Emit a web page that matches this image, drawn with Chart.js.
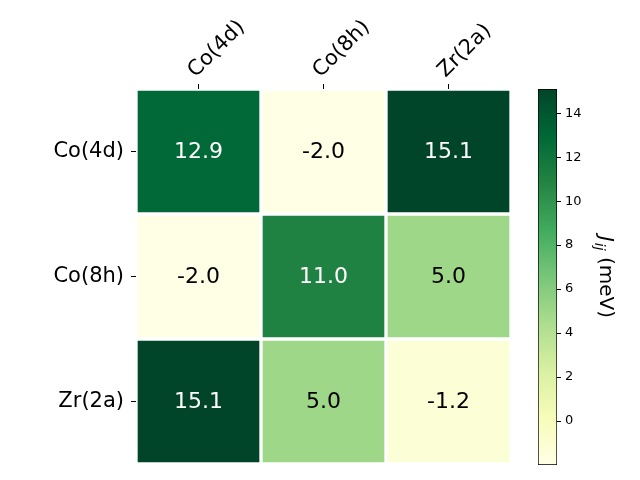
<!DOCTYPE html>
<html>
<head>
<meta charset="utf-8">
<script src="https://cdn.jsdelivr.net/npm/chart.js@4"></script>
<style>
  html, body { margin: 0; padding: 0; background: #fff; }
  #wrap { position: relative; width: 640px; height: 480px; }
  #heat { position: absolute; left: 0; top: 0; }
  #cbar { position: absolute; left: 520px; top: 0; }
</style>
</head>
<body>
<div id="wrap">
  <canvas id="heat" width="640" height="480"></canvas>
  <canvas id="cbar" width="120" height="480"></canvas>
</div>
<script>
/* J_ij exchange heatmap + YlGn colorbar */
const colLabels = ["Co(4d)", "Co(8h)", "Zr(2a)"];
const rowLabels = ["Co(4d)", "Co(8h)", "Zr(2a)"];
const row0 = [12.9, -2.0, 15.1];
const row1 = [-2.0, 11.0, 5.0];
const row2 = [15.1, 5.0, -1.2];
const rows = [row0, row1, row2];
const cbTicks = [0, 2, 4, 6, 8, 10, 12, 14];
const vmin = -2.0, vmax = 15.1;

// matplotlib YlGn
const YLGN = ["#ffffe5", "#f7fcb9", "#d9f0a3", "#addd8e", "#78c679", "#41ab5d", "#238443", "#006837", "#004529"];

Chart.defaults.font.family = "'DejaVu Sans', sans-serif";
Chart.defaults.color = "#000";

const hex = (h) => [1, 3, 5].map(i => parseInt(h.slice(i, i + 2), 16));
function cmap(v) {
  const t = Math.min(1, Math.max(0, (v - vmin) / (vmax - vmin))) * (YLGN.length - 1);
  const i = Math.min(YLGN.length - 2, Math.floor(t)), f = t - i;
  const a = hex(YLGN[i]), b = hex(YLGN[i + 1]);
  const c = a.map((x, k) => Math.round(x + (b[k] - x) * f));
  return `rgb(${c[0]},${c[1]},${c[2]})`;
}

/* ---------------- heatmap ---------------- */
const cellText = {
  id: "cellText",
  afterDatasetsDraw(chart) {
    const c = chart.ctx;
    c.save();
    c.font = "22px 'DejaVu Sans', sans-serif";
    c.textAlign = "center"; c.textBaseline = "middle";
    chart.data.datasets.forEach((ds, r) => {
      chart.getDatasetMeta(r).data.forEach((el, k) => {
        const v = rows[r][k];
        c.fillStyle = v > (vmin + vmax) / 2 ? "#fff" : "#000";
        c.fillText(v.toFixed(1), el.x, (el.y + el.base) / 2 + 1);
      });
    });
    c.restore();
  },
};

new Chart(document.getElementById("heat"), {
  type: "bar",
  data: {
    labels: colLabels,
    datasets: rows.map((vals, r) => ({
      data: vals.map(() => [r, r + 1]),
      backgroundColor: vals.map(cmap),
      borderColor: "#fff",
      borderWidth: 2,
      borderSkipped: false,
      barPercentage: 1,
      categoryPercentage: 1,
      grouped: false,
    })),
  },
  options: {
    responsive: false, animation: false,
    layout: { padding: { left: 0, top: 0, right: 129, bottom: 16 } },
    plugins: { legend: { display: false }, tooltip: { enabled: false } },
    scales: {
      x: {
        position: "top",
        grid: { offset: false, drawOnChartArea: false, drawTicks: true, tickLength: 5, color: "#000" },
        border: { display: false },
        ticks: { font: { size: 21 }, minRotation: 45, maxRotation: 45, autoSkip: false, padding: 1, labelOffset: 11 },
        afterFit: (s) => { s.height = 89; s.paddingLeft = 0; s.paddingRight = 0; },
      },
      y: {
        min: 0, max: 3, reverse: true,
        grid: { drawOnChartArea: false, drawTicks: true, tickLength: 5, color: "#000" },
        border: { display: false },
        afterBuildTicks: (s) => { s.ticks = rowLabels.map((_, i) => ({ value: i + 0.5 })); },
        ticks: { font: { size: 21 }, padding: 7, callback: (v) => rowLabels[Math.floor(v)] },
        afterFit: (s) => { s.width = 136; s.paddingTop = 0; s.paddingBottom = 0; },
      },
    },
  },
  plugins: [cellText],
});

/* ---------------- colorbar ---------------- */
const cbTitle = {
  id: "cbTitle",
  afterDraw(chart) {
    const c = chart.ctx, a = chart.chartArea;
    c.save();
    c.translate(a.right + 48, (a.top + a.bottom) / 2);
    c.rotate(Math.PI / 2);
    c.fillStyle = "#000"; c.textBaseline = "middle";
    const big = "20px 'DejaVu Sans', sans-serif", it = "italic 20px 'DejaVu Sans', sans-serif",
          sub = "italic 14px 'DejaVu Sans', sans-serif";
    c.font = it; const wJ = c.measureText("J").width;
    c.font = sub; const wS = c.measureText("ij").width;
    c.font = big; const wU = c.measureText(" (meV)").width;
    let x = -(wJ + wS + 1 + wU) / 2;
    c.font = it; c.fillText("J", x, 0); x += wJ + 1;
    c.font = sub; c.fillText("ij", x, 6); x += wS;
    c.font = big; c.fillText(" (meV)", x, 0);
    c.restore();
  },
};

new Chart(document.getElementById("cbar"), {
  type: "bar",
  data: {
    labels: [""],
    datasets: [{
      data: [[vmin, vmax]],
      backgroundColor: (ctx) => {
        const ch = ctx.chart;
        if (!ch.chartArea) return YLGN[4];
        const y = ch.scales.y;
        const g = ch.ctx.createLinearGradient(0, y.getPixelForValue(vmin), 0, y.getPixelForValue(vmax));
        YLGN.forEach((col, i) => g.addColorStop(i / (YLGN.length - 1), col));
        return g;
      },
      borderColor: "#000",
      borderWidth: 1,
      borderSkipped: false,
      barPercentage: 1,
      categoryPercentage: 1,
    }],
  },
  options: {
    responsive: false, animation: false,
    layout: { padding: { left: 18, top: 89, right: 0, bottom: 15 } },
    plugins: { legend: { display: false }, tooltip: { enabled: false } },
    scales: {
      x: { display: false },
      y: {
        position: "right", min: vmin, max: vmax,
        grid: { drawOnChartArea: false, drawTicks: true, tickLength: 4, color: "#000" },
        border: { display: false },
        afterBuildTicks: (s) => { s.ticks = cbTicks.map(v => ({ value: v })); },
        ticks: { font: { size: 13 }, padding: 4 },
        afterFit: (s) => { s.width = 83; s.paddingTop = 0; s.paddingBottom = 0; },
      },
    },
  },
  plugins: [cbTitle],
});
</script>
</body>
</html>
